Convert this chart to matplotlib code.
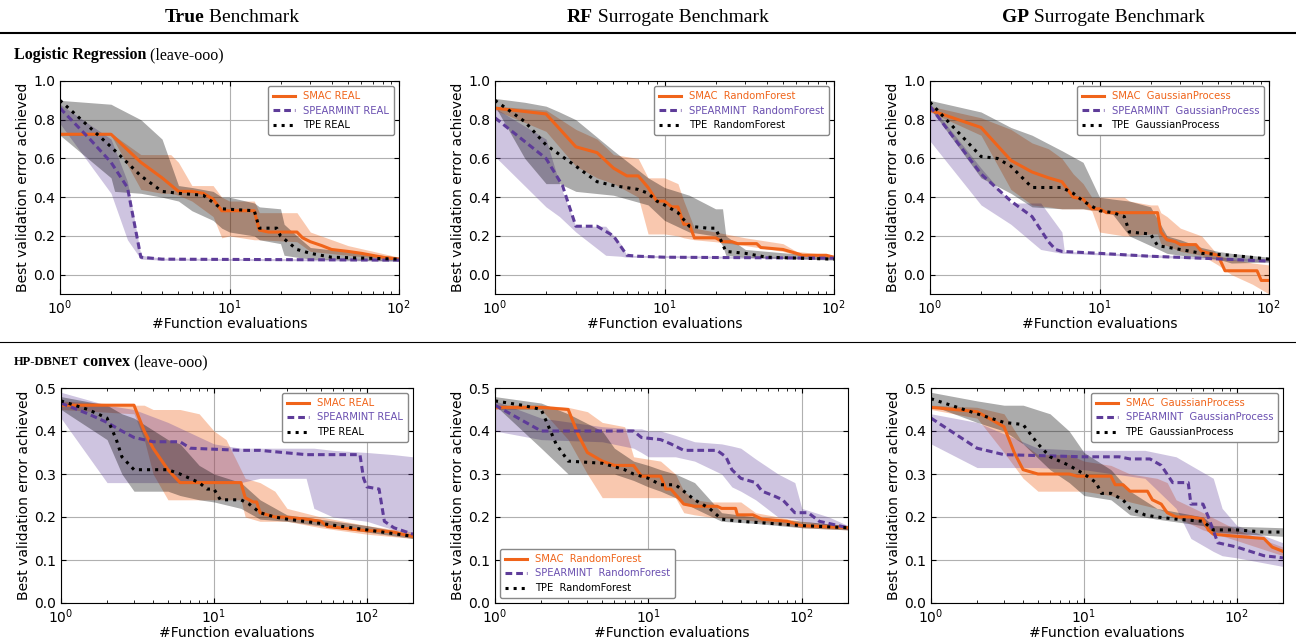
import numpy as np
from matplotlib import pyplot as plt
from matplotlib.lines import Line2D

W, H = 1296, 641

# ---- data ----
# each series: x/y for the median line, bx/lo/hi for the shaded band
lr_true = {
    "SMAC": dict(
        x=[1, 2, 3, 4, 5, 6, 7, 8, 9, 10, 14, 15, 17, 25, 27, 30, 35, 40, 50, 60, 80, 100],
        y=[0.725, 0.725, 0.58, 0.50, 0.43, 0.43, 0.42, 0.39, 0.33, 0.33, 0.33, 0.23, 0.22, 0.22,
           0.19, 0.17, 0.15, 0.13, 0.12, 0.11, 0.09, 0.08],
        bx=[1, 2, 3, 4, 4.5, 5, 6, 8, 9, 10, 14, 15, 25, 30, 50, 100],
        lo=[0.72, 0.72, 0.44, 0.42, 0.42, 0.41, 0.38, 0.30, 0.19, 0.20, 0.18, 0.18, 0.17, 0.12, 0.10, 0.075],
        hi=[0.73, 0.73, 0.62, 0.62, 0.62, 0.58, 0.46, 0.46, 0.40, 0.38, 0.38, 0.32, 0.32, 0.22, 0.15, 0.09]),
    "SPEARMINT": dict(
        x=[1, 1.5, 2, 2.5, 3, 4, 100],
        y=[0.86, 0.70, 0.58, 0.45, 0.09, 0.08, 0.075],
        bx=[1, 2, 2.5, 3, 4, 100],
        lo=[0.78, 0.42, 0.18, 0.08, 0.075, 0.07],
        hi=[0.88, 0.70, 0.48, 0.10, 0.085, 0.08]),
    "TPE": dict(
        x=[1, 1.5, 2, 3, 4, 5, 7, 9, 14, 15, 19, 20, 25, 30, 40, 100],
        y=[0.90, 0.76, 0.66, 0.51, 0.43, 0.42, 0.41, 0.34, 0.33, 0.24, 0.24, 0.20, 0.13, 0.11, 0.09, 0.08],
        bx=[1, 2, 2.1, 3, 4, 5, 6, 8, 9, 10, 14, 15, 20, 21, 25, 30, 100],
        lo=[0.72, 0.50, 0.43, 0.42, 0.40, 0.38, 0.33, 0.28, 0.24, 0.22, 0.20, 0.18, 0.16, 0.10, 0.09, 0.08, 0.07],
        hi=[0.90, 0.88, 0.87, 0.80, 0.70, 0.46, 0.45, 0.43, 0.40, 0.40, 0.37, 0.35, 0.34, 0.26, 0.20, 0.14, 0.09]),
}

lr_rf = {
    "SMAC": dict(
        x=[1, 2, 3, 4, 5, 6, 7, 8, 9, 10, 11, 12, 13, 14, 15, 20, 22, 25, 27, 35, 37, 50, 60, 65, 90, 100],
        y=[0.86, 0.83, 0.66, 0.63, 0.55, 0.51, 0.51, 0.45, 0.38, 0.38, 0.35, 0.35, 0.26, 0.26, 0.19, 0.19,
           0.17, 0.17, 0.16, 0.16, 0.14, 0.13, 0.11, 0.10, 0.10, 0.09],
        bx=[1, 2, 3, 4, 5, 7, 8, 10, 12, 13, 15, 20, 30, 50, 60, 100],
        lo=[0.85, 0.74, 0.56, 0.50, 0.47, 0.40, 0.21, 0.21, 0.20, 0.19, 0.18, 0.17, 0.15, 0.12, 0.10, 0.085],
        hi=[0.87, 0.85, 0.75, 0.70, 0.62, 0.60, 0.50, 0.50, 0.47, 0.38, 0.24, 0.22, 0.19, 0.16, 0.12, 0.10]),
    "SPEARMINT": dict(
        x=[1, 2, 2.5, 3, 4, 5, 6, 7, 10, 100],
        y=[0.81, 0.60, 0.46, 0.25, 0.25, 0.20, 0.10, 0.095, 0.09, 0.085],
        bx=[1, 2, 2.4, 3, 4.5, 5.5, 6, 100],
        lo=[0.61, 0.35, 0.30, 0.22, 0.10, 0.095, 0.09, 0.08],
        hi=[0.86, 0.70, 0.47, 0.25, 0.25, 0.16, 0.10, 0.09]),
    "TPE": dict(
        x=[1, 1.5, 2, 3, 4, 5, 7, 8, 9, 10, 12, 14, 18, 20, 23, 30, 40, 100],
        y=[0.90, 0.79, 0.67, 0.56, 0.48, 0.46, 0.44, 0.42, 0.38, 0.36, 0.32, 0.25, 0.24, 0.24, 0.12,
           0.11, 0.09, 0.08],
        bx=[1, 1.5, 2, 2.4, 3, 5, 8, 10, 14, 20, 22, 23, 30, 100],
        lo=[0.87, 0.60, 0.47, 0.47, 0.43, 0.41, 0.36, 0.28, 0.22, 0.20, 0.15, 0.10, 0.09, 0.075],
        hi=[0.91, 0.89, 0.87, 0.84, 0.80, 0.64, 0.50, 0.45, 0.41, 0.34, 0.34, 0.20, 0.13, 0.09]),
}

lr_gp = {
    "SMAC": dict(
        x=[1, 2, 3, 4, 5, 6, 7, 8, 9, 10, 11, 22, 23, 25, 28, 30, 37, 40, 50, 55, 85, 90, 100],
        y=[0.85, 0.76, 0.59, 0.53, 0.50, 0.48, 0.40, 0.39, 0.34, 0.34, 0.32, 0.32, 0.22, 0.18, 0.17,
           0.155, 0.155, 0.12, 0.10, 0.02, 0.02, -0.03, -0.03],
        bx=[1, 2, 3, 4, 5, 6, 7, 8, 9, 10, 14, 15, 20, 22, 23, 25, 30, 40, 50, 60, 80, 100],
        lo=[0.84, 0.72, 0.44, 0.36, 0.35, 0.34, 0.34, 0.34, 0.33, 0.22, 0.20, 0.20, 0.21, 0.21, 0.16,
            0.15, 0.12, 0.10, 0.05, 0.0, -0.05, -0.10],
        hi=[0.87, 0.81, 0.75, 0.68, 0.65, 0.60, 0.52, 0.47, 0.40, 0.40, 0.40, 0.38, 0.36, 0.36, 0.32,
            0.30, 0.24, 0.20, 0.10, 0.08, 0.06, 0.05]),
    "SPEARMINT": dict(
        x=[1, 2, 3, 4, 5, 5.5, 6, 10, 20, 40, 100],
        y=[0.87, 0.52, 0.38, 0.30, 0.17, 0.13, 0.12, 0.11, 0.095, 0.085, 0.07],
        bx=[1, 2, 3, 4.5, 6, 6.2, 100],
        lo=[0.69, 0.36, 0.26, 0.13, 0.11, 0.11, 0.065],
        hi=[0.88, 0.55, 0.37, 0.37, 0.22, 0.12, 0.08]),
    "TPE": dict(
        x=[1, 2, 2.5, 3, 4, 6, 7, 8, 10, 12, 14, 15, 20, 22, 30, 40, 60, 100],
        y=[0.89, 0.61, 0.60, 0.56, 0.45, 0.45, 0.42, 0.38, 0.33, 0.32, 0.30, 0.22, 0.21, 0.15, 0.13,
           0.11, 0.10, 0.08],
        bx=[1, 2, 3, 4, 6, 8, 10, 12, 15, 20, 25, 30, 40, 50, 60, 100],
        lo=[0.86, 0.50, 0.42, 0.35, 0.34, 0.34, 0.33, 0.31, 0.20, 0.15, 0.11, 0.10, 0.09, 0.08, 0.06, 0.065],
        hi=[0.90, 0.84, 0.76, 0.72, 0.64, 0.58, 0.40, 0.39, 0.38, 0.35, 0.20, 0.18, 0.14, 0.12, 0.11, 0.09]),
}

db_true = {
    "SMAC": dict(
        x=[1, 3, 3.5, 4, 5, 6, 15, 16, 18, 19, 20, 25, 28, 40, 50, 55, 100, 120, 150, 170, 200],
        y=[0.46, 0.46, 0.40, 0.36, 0.31, 0.28, 0.28, 0.245, 0.235, 0.235, 0.21, 0.20, 0.20, 0.195, 0.19,
           0.178, 0.168, 0.168, 0.165, 0.16, 0.155],
        bx=[1, 3, 3.5, 4, 5, 6, 8, 10, 12, 15, 16, 20, 25, 30, 50, 100, 200],
        lo=[0.45, 0.44, 0.38, 0.30, 0.24, 0.24, 0.24, 0.24, 0.24, 0.24, 0.20, 0.19, 0.19, 0.19, 0.175, 0.16, 0.15],
        hi=[0.47, 0.46, 0.46, 0.45, 0.45, 0.45, 0.44, 0.40, 0.38, 0.31, 0.29, 0.28, 0.26, 0.22, 0.20, 0.18, 0.165]),
    "SPEARMINT": dict(
        x=[1, 1.5, 2, 2.5, 3, 4, 6, 7, 15, 20, 40, 90, 95, 100, 120, 130, 150, 200],
        y=[0.465, 0.44, 0.42, 0.40, 0.385, 0.375, 0.375, 0.36, 0.355, 0.355, 0.345, 0.345, 0.29, 0.27,
           0.265, 0.19, 0.175, 0.16],
        bx=[1, 2, 3, 5, 10, 15, 20, 40, 45, 60, 100, 150, 200],
        lo=[0.43, 0.28, 0.28, 0.28, 0.28, 0.28, 0.29, 0.29, 0.22, 0.20, 0.19, 0.17, 0.16],
        hi=[0.49, 0.46, 0.45, 0.42, 0.37, 0.36, 0.36, 0.36, 0.36, 0.355, 0.35, 0.345, 0.34]),
    "TPE": dict(
        x=[1, 1.5, 2, 2.3, 2.5, 3, 5, 6, 8, 9, 10, 11, 15, 17, 20, 25, 30, 50, 100, 200],
        y=[0.47, 0.45, 0.43, 0.38, 0.34, 0.31, 0.31, 0.30, 0.28, 0.265, 0.265, 0.24, 0.24, 0.23, 0.21,
           0.20, 0.195, 0.185, 0.17, 0.155],
        bx=[1, 2, 2.5, 3, 5, 6, 8, 10, 15, 20, 30, 100, 200],
        lo=[0.45, 0.38, 0.30, 0.26, 0.26, 0.25, 0.24, 0.235, 0.22, 0.195, 0.19, 0.165, 0.15],
        hi=[0.48, 0.46, 0.44, 0.43, 0.38, 0.37, 0.32, 0.30, 0.28, 0.24, 0.205, 0.18, 0.16]),
}

db_rf = {
    "SMAC": dict(
        x=[1, 2, 3, 3.5, 4, 5, 6, 8, 9, 12, 13, 14, 17, 20, 28, 30, 37, 38, 48, 55, 80, 100, 200],
        y=[0.455, 0.455, 0.45, 0.39, 0.35, 0.33, 0.32, 0.32, 0.295, 0.295, 0.265, 0.265, 0.23, 0.225,
           0.225, 0.22, 0.22, 0.205, 0.205, 0.195, 0.19, 0.18, 0.175],
        bx=[1, 2, 3, 4, 5, 7, 8, 12, 15, 17, 20, 25, 30, 40, 50, 100, 200],
        lo=[0.45, 0.45, 0.38, 0.30, 0.245, 0.245, 0.245, 0.245, 0.245, 0.21, 0.205, 0.20, 0.198,
            0.195, 0.19, 0.175, 0.17],
        hi=[0.46, 0.46, 0.455, 0.445, 0.42, 0.41, 0.34, 0.33, 0.30, 0.26, 0.24, 0.235, 0.235, 0.235,
            0.21, 0.19, 0.18]),
    "SPEARMINT": dict(
        x=[1, 2, 3, 8, 9, 12, 14, 17, 28, 32, 35, 40, 50, 55, 65, 75, 90, 110, 130, 200],
        y=[0.46, 0.40, 0.40, 0.40, 0.385, 0.38, 0.37, 0.355, 0.355, 0.34, 0.31, 0.29, 0.28, 0.26, 0.25,
           0.24, 0.21, 0.21, 0.19, 0.175],
        bx=[1, 2, 5, 8, 9, 10, 12, 15, 20, 30, 35, 40, 50, 70, 90, 100, 150, 200],
        lo=[0.40, 0.38, 0.375, 0.36, 0.35, 0.34, 0.34, 0.34, 0.33, 0.30, 0.27, 0.26, 0.24, 0.20, 0.195,
            0.19, 0.18, 0.17],
        hi=[0.47, 0.43, 0.41, 0.405, 0.405, 0.40, 0.40, 0.39, 0.375, 0.37, 0.365, 0.36, 0.335, 0.30,
            0.28, 0.22, 0.20, 0.18]),
    "TPE": dict(
        x=[1, 1.5, 2, 2.3, 2.5, 3, 5, 7, 8, 10, 12, 15, 17, 20, 25, 30, 40, 100, 200],
        y=[0.47, 0.46, 0.45, 0.40, 0.37, 0.33, 0.325, 0.31, 0.30, 0.29, 0.275, 0.275, 0.26, 0.24, 0.22,
           0.195, 0.19, 0.18, 0.175],
        bx=[1, 2, 3, 5, 6, 8, 10, 12, 15, 20, 30, 50, 100, 200],
        lo=[0.46, 0.36, 0.30, 0.30, 0.30, 0.285, 0.27, 0.26, 0.245, 0.22, 0.19, 0.185, 0.175, 0.17],
        hi=[0.48, 0.465, 0.44, 0.40, 0.36, 0.33, 0.32, 0.31, 0.30, 0.28, 0.21, 0.20, 0.19, 0.18]),
}

db_gp = {
    "SMAC": dict(
        x=[1, 2, 3, 3.5, 4, 5, 8, 9, 15, 16, 18, 20, 26, 28, 32, 35, 40, 50, 60, 65, 70, 100, 150,
           170, 200],
        y=[0.455, 0.445, 0.41, 0.35, 0.31, 0.30, 0.30, 0.295, 0.295, 0.275, 0.275, 0.26, 0.26, 0.24,
           0.23, 0.21, 0.20, 0.20, 0.195, 0.17, 0.16, 0.155, 0.15, 0.13, 0.12],
        bx=[1, 2, 3, 4, 5, 8, 10, 15, 20, 30, 35, 40, 60, 100, 200],
        lo=[0.45, 0.43, 0.35, 0.29, 0.26, 0.26, 0.26, 0.25, 0.235, 0.22, 0.21, 0.20, 0.17, 0.145, 0.11],
        hi=[0.46, 0.455, 0.44, 0.37, 0.345, 0.345, 0.33, 0.32, 0.30, 0.29, 0.28, 0.24, 0.21, 0.17, 0.13]),
    "SPEARMINT": dict(
        x=[1, 2, 3, 10, 17, 20, 27, 32, 38, 48, 50, 60, 65, 75, 100, 150, 200],
        y=[0.43, 0.36, 0.345, 0.34, 0.34, 0.335, 0.335, 0.32, 0.28, 0.28, 0.23, 0.23, 0.20, 0.14, 0.13,
           0.11, 0.105],
        bx=[1, 2, 5, 10, 25, 40, 50, 70, 80, 100, 200],
        lo=[0.37, 0.315, 0.315, 0.31, 0.29, 0.22, 0.15, 0.12, 0.11, 0.105, 0.085],
        hi=[0.44, 0.42, 0.36, 0.355, 0.355, 0.34, 0.32, 0.29, 0.22, 0.18, 0.14]),
    "TPE": dict(
        x=[1, 2, 3, 4, 5, 6, 8, 10, 12, 13, 15, 18, 20, 25, 30, 40, 60, 70, 100, 150, 200],
        y=[0.475, 0.44, 0.42, 0.415, 0.37, 0.34, 0.32, 0.30, 0.28, 0.255, 0.255, 0.24, 0.22, 0.205,
           0.20, 0.195, 0.19, 0.17, 0.17, 0.165, 0.165],
        bx=[1, 2, 3, 4, 6, 8, 10, 15, 20, 30, 60, 70, 200],
        lo=[0.46, 0.42, 0.40, 0.37, 0.31, 0.28, 0.25, 0.24, 0.205, 0.195, 0.18, 0.165, 0.155],
        hi=[0.49, 0.47, 0.46, 0.46, 0.44, 0.40, 0.35, 0.31, 0.26, 0.22, 0.20, 0.18, 0.175]),
}

col_titles = [("True", " Benchmark"), ("RF", " Surrogate Benchmark"), ("GP", " Surrogate Benchmark")]
surrogates = ["REAL", " RandomForest", " GaussianProcess"]
algos = ["SMAC", "SPEARMINT", "TPE"]

# ---- styling ----
ORANGE = "#f0641a"
PURPLE = "#5e3c99"
style = {
    "SMAC": dict(color=ORANGE, ls="-", fill=ORANGE, alpha=0.35, text=ORANGE),
    "SPEARMINT": dict(color=PURPLE, ls=(0, (2.2, 1.3)), fill=PURPLE, alpha=0.3, text="#6a4fb0"),
    "TPE": dict(color="black", ls=":", fill="black", alpha=0.33, text="black"),
}

plt.rcParams["font.family"] = "DejaVu Sans"
fig = plt.figure(figsize=(W / 100, H / 100), dpi=100)


def px_axes(x0, x1, y0, y1):
    return fig.add_axes([x0 / W, 1 - y1 / H, (x1 - x0) / W, (y1 - y0) / H])


def draw_panel(ax, data, surrogate, xmax, ylim, yticks, loc):
    for name in algos:
        s = data[name]
        st = style[name]
        ax.fill_between(s["bx"], s["lo"], s["hi"], color=st["fill"], alpha=st["alpha"], lw=0)
    for name in algos:
        s = data[name]
        st = style[name]
        ax.plot(s["x"], s["y"], color=st["color"], ls=st["ls"], lw=2.2, label=name + " " + surrogate)
    ax.set_xscale("log")
    ax.set_xlim(1, xmax)
    ax.set_ylim(*ylim)
    ax.set_yticks(yticks)
    ax.grid(True, which="major", color="#b0b0b0", lw=0.8, ls="-")
    ax.set_axisbelow(True)
    ax.tick_params(which="both", direction="in", top=True, right=True, labelsize=10)
    ax.set_xlabel("#Function evaluations", fontsize=10, labelpad=0)
    ax.set_ylabel("Best validation error achieved", fontsize=10, labelpad=2)
    leg = ax.legend(loc=loc, fontsize=7.2, handlelength=2.2, fancybox=True,
                    edgecolor="#888888", framealpha=1.0, borderpad=0.5, labelspacing=0.45)
    for t, name in zip(leg.get_texts(), algos):
        t.set_color(style[name]["text"])


top_x = [(60, 399), (495, 834), (930, 1269)]
bot_x = [(61, 413), (495, 848), (931, 1283)]
top_data = [lr_true, lr_rf, lr_gp]
bot_data = [db_true, db_rf, db_gp]
bot_loc = ["upper right", "lower left", "upper right"]

for i in range(3):
    ax = px_axes(top_x[i][0], top_x[i][1], 81, 294)
    draw_panel(ax, top_data[i], surrogates[i], 100, (-0.1, 1.0),
               [0.0, 0.2, 0.4, 0.6, 0.8, 1.0], "upper right")
    ax = px_axes(bot_x[i][0], bot_x[i][1], 388, 603)
    draw_panel(ax, bot_data[i], surrogates[i], 200, (0.0, 0.5),
               [0.0, 0.1, 0.2, 0.3, 0.4, 0.5], bot_loc[i])

# ---- figure-level text ----
renderer = fig.canvas.get_renderer()


def rich_text(x, y, parts, center=False):
    texts = [fig.text(0, 0, s, va="center", ha="left", **kw) for s, kw in parts]
    widths = [t.get_window_extent(renderer).width for t in texts]
    pos = x - sum(widths) / 2 if center else x
    for t, w in zip(texts, widths):
        t.set_position((pos / W, 1 - y / H))
        pos += w


SERIF = "Liberation Serif"
col_centers = [232, 668, 1103]
for c, (b, r) in zip(col_centers, col_titles):
    rich_text(c, 17, [(b, dict(family=SERIF, weight="bold", fontsize=14)),
                      (r, dict(family=SERIF, fontsize=14))], center=True)

rich_text(14, 55, [("Logistic Regression", dict(family=SERIF, weight="bold", fontsize=11.5)),
                   (" (leave-ooo)", dict(family=SERIF, fontsize=11.5))])
rich_text(14, 362, [("HP-DBNET", dict(family=SERIF, weight="bold", fontsize=9)),
                    (" convex", dict(family=SERIF, weight="bold", fontsize=11.5)),
                    (" (leave-ooo)", dict(family=SERIF, fontsize=11.5))])

fig.add_artist(Line2D([0, 1], [1 - 33 / H, 1 - 33 / H], transform=fig.transFigure,
                      color="black", lw=1.5))
fig.add_artist(Line2D([0, 1], [1 - 342 / H, 1 - 342 / H], transform=fig.transFigure,
                      color="black", lw=0.8))

fig.savefig("out.png", dpi=100)
